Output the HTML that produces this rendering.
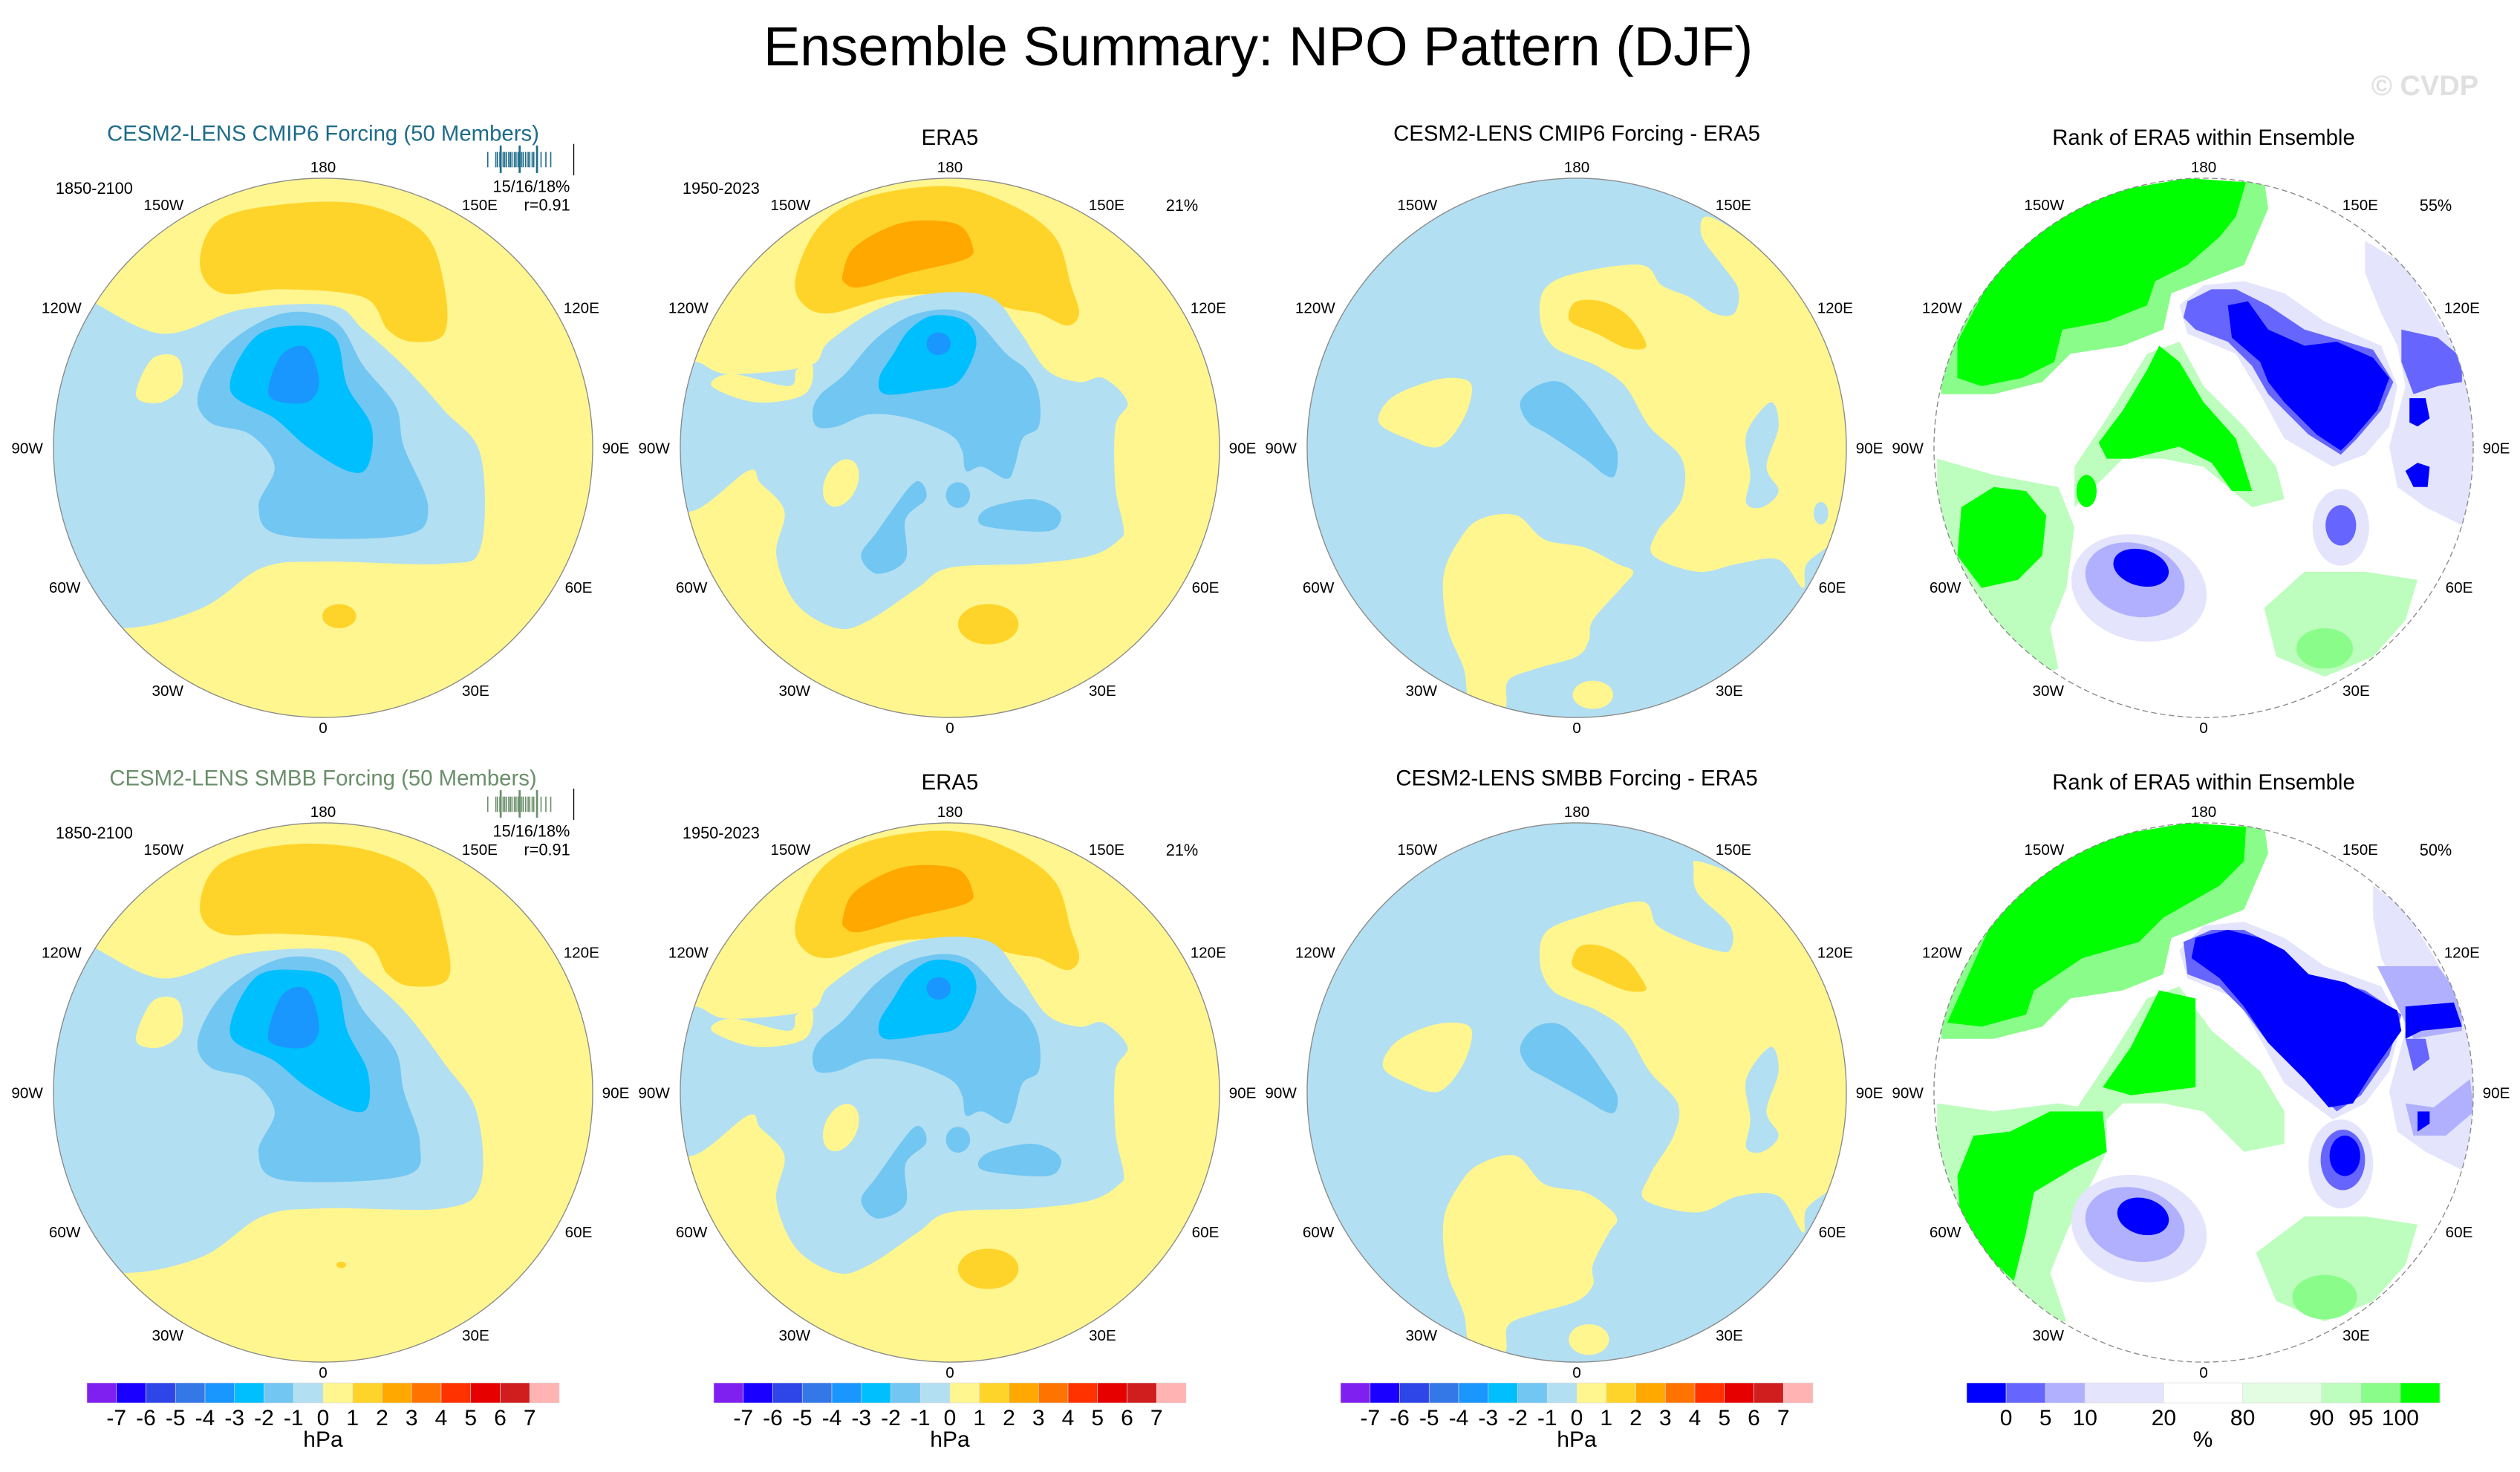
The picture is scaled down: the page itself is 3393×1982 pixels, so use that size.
<!DOCTYPE html>
<html>
<head>
<meta charset="utf-8">
<style>
html,body{margin:0;padding:0;background:#fff;}
svg{display:block;font-family:"Liberation Sans",Arial,sans-serif;}
</style>
</head>
<body>
<svg id="fig" width="3393" height="1982" viewBox="0 0 3393 1982" xmlns="http://www.w3.org/2000/svg">
<defs id="defs"></defs>
<rect x="0" y="0" width="3393" height="1982" fill="#fff"/>
<text x="1694" y="88" font-size="74" text-anchor="middle" fill="#000">Ensemble Summary: NPO Pattern (DJF)</text>
<text x="3265" y="128" font-size="38" font-weight="bold" text-anchor="middle" fill="#e0e0e0">© CVDP</text>
</svg>
<script>
const NS='http://www.w3.org/2000/svg';
const svg=document.getElementById('fig');
const defs=document.getElementById('defs');

// ---- colour bar data ----
const hpaColors=['#8020f0','#1a00ff','#2e45e8','#3478e8','#1a96ff','#00bfff','#72c6f2','#b3dff2','#fff68f','#ffd42a','#ffa800','#ff7400','#ff3200','#e60000','#d01d1d','#ffb3b3'];
const hpaLabels=['-7','-6','-5','-4','-3','-2','-1','0','1','2','3','4','5','6','7'];
const rankColors=['#0000ff','#6666ff','#b0b0ff','#e4e4fc','#ffffff','#e2fde2','#bdfdbd','#8afc8a','#00ff00'];
const rankWidths=[1,1,1,2,2,2,1,1,1];
const rankLabels=['0','5','10','20','80','90','95','100'];
const lonLabels=['180','150W','150E','120W','120E','90W','90E','60W','60E','30W','30E','0'];
const lonLabelPos=[[800,170],[405,264],[1188,264],[152,519],[1440,519],[67,867],[1525,867],[160,1212],[1433,1212],[415,1468],[1178,1468],[800,1560]];

// ---- map fields (level index, outline in map units; e = ellipse cx,cy,rx,ry,rot) ----
const fieldModelCMIP6=[
 {c:7,p:[[200,480],[400,570],[600,510],[820,500],[900,560],[1000,650],[1100,760],[1190,870],[1190,1100],[1100,1140],[800,1135],[650,1150],[500,1250],[300,1300],[100,1250],[60,800],[120,500]]},
 {c:8,p:[[340,700],[380,630],[440,630],[450,700],[400,740],[345,735]]},
 {c:6,p:[[490,720],[560,600],[700,520],[830,540],[900,650],[980,750],[1000,850],[1060,1000],[1000,1070],[700,1070],[640,1000],[680,900],[620,820],[520,790]]},
 {c:5,p:[[570,710],[630,580],[740,550],[830,580],[860,700],[920,800],[910,900],[860,910],[760,850],[680,780]]},
 {c:4,p:[[665,700],[700,620],[760,605],[790,690],[760,740],[680,735]]},
 {c:9,p:[[495,400],[540,290],[700,250],[900,250],[1050,320],[1100,450],[1100,570],[1020,590],[960,560],[900,480],[700,460],[550,470]]},
 {c:9,e:[840,1270,42,30,0]}
];
const fieldModelSMBB=[
 {c:7,p:[[200,480],[400,570],[600,510],[820,500],[900,560],[1000,650],[1100,780],[1180,900],[1190,1080],[1100,1140],[800,1140],[650,1160],[500,1260],[300,1300],[100,1250],[60,800],[120,500]]},
 {c:8,p:[[340,700],[380,625],[440,625],[450,700],[400,740],[345,735]]},
 {c:6,p:[[490,720],[560,600],[700,520],[830,540],[900,650],[980,750],[1000,850],[1040,980],[1000,1060],[700,1070],[640,1000],[680,900],[620,820],[520,790]]},
 {c:5,p:[[570,710],[630,570],[740,550],[830,580],[860,700],[910,800],[910,890],[860,895],[760,840],[680,775]]},
 {c:4,p:[[665,700],[700,610],[760,598],[790,690],[760,740],[680,735]]},
 {c:9,p:[[495,400],[540,290],[700,240],[900,250],[1050,320],[1100,450],[1110,570],[1020,590],[960,560],[900,480],[700,460],[550,460]]},
 {c:9,e:[845,1280,12,8,0]}
];
const fieldERA5=[
 {c:9,p:[[420,420],[480,300],[600,230],[800,205],[950,250],[1060,330],[1100,450],[1120,520],[1090,550],[1020,520],[960,510],[800,475],[650,480],[500,520],[430,490]]},
 {c:10,p:[[535,420],[560,360],[640,310],[720,290],[820,300],[855,350],[840,385],[700,420],[580,455],[540,445]]},
 {c:7,p:[[160,640],[250,670],[450,650],[500,590],[620,510],[760,470],[900,480],[970,560],[1040,660],[1120,690],[1180,680],[1240,740],[1210,800],[1210,950],[1230,1050],[1220,1080],[1150,1120],[1000,1140],[800,1150],[720,1200],[600,1280],[520,1300],[420,1240],[370,1120],[390,1010],[330,940],[300,910],[160,1010],[60,950],[60,700]]},
 {c:8,p:[[210,700],[260,670],[400,700],[420,660],[460,650],[440,720],[320,740]]},
 {c:8,e:[530,940,40,62,25]},
 {c:6,p:[[460,760],[480,720],[540,670],[620,580],[720,520],[840,520],[940,620],[990,660],[1020,720],[1020,800],[980,830],[960,900],[940,930],[880,900],[840,910],[830,860],[800,820],[700,780],[600,770],[520,800],[470,800]]},
 {c:6,p:[[580,1120],[620,1060],[700,950],[730,940],[740,980],[690,1030],[690,1130],[620,1165]]},
 {c:6,e:[820,970,30,32,0]},
 {c:6,p:[[870,1030],[900,1000],[1000,980],[1060,1000],[1075,1030],[1040,1060],[900,1050]]},
 {c:5,p:[[625,680],[660,620],[700,560],[760,525],[840,540],[865,600],[820,690],[740,710],[640,720]]},
 {c:4,e:[772,595,30,28,0]},
 {c:9,e:[895,1290,75,50,0]}
];
const fieldDiffCMIP6=[
 {c:8,p:[[1120,280],[1200,320],[1330,420],[1420,560],[1470,700],[1470,1000],[1440,1080],[1370,1140],[1360,1200],[1300,1130],[1200,1140],[1100,1160],[990,1120],[1000,1060],[1060,980],[1060,880],[980,800],[920,700],[850,650],[800,630],[740,600],[710,540],[720,460],[800,420],[960,400],[1010,450],[1080,480],[1140,520],[1190,520],[1200,460],[1160,400],[1110,330]]},
 {c:7,p:[[1220,820],[1280,740],[1300,800],[1270,900],[1300,960],[1260,1000],[1220,990],[1230,920]]},
 {c:7,e:[1405,1015,18,28,0]},
 {c:8,p:[[310,790],[340,730],[430,690],[500,680],[540,700],[520,780],[460,850],[380,830]]},
 {c:8,p:[[470,1170],[510,1080],[560,1030],[650,1020],[720,1080],[820,1100],[900,1140],[940,1160],[910,1200],[840,1280],[830,1330],[800,1370],[700,1400],[630,1430],[620,1500],[540,1500],[520,1400],[480,1300]]},
 {c:8,e:[840,1465,50,35,0]},
 {c:9,p:[[780,520],[800,490],[860,490],[920,520],[960,570],[970,605],[920,605],[850,570],[790,545]]},
 {c:6,p:[[660,740],[700,700],[760,690],[820,740],[870,810],[900,860],[895,920],[870,920],[820,880],[730,820],[680,790]]}
];
const fieldDiffSMBB=[
 {c:8,p:[[1100,280],[1200,320],[1330,420],[1420,560],[1470,700],[1470,1000],[1440,1080],[1370,1140],[1360,1200],[1300,1110],[1200,1110],[1100,1150],[970,1120],[980,1060],[1040,960],[1050,880],[980,800],[920,700],[850,650],[800,630],[740,600],[710,540],[720,460],[800,420],[960,380],[1000,440],[1080,480],[1140,500],[1180,500],[1180,440],[1100,360],[1090,300]]},
 {c:7,p:[[1220,820],[1280,740],[1300,800],[1270,900],[1300,960],[1260,1000],[1220,990],[1230,920]]},
 {c:8,p:[[320,790],[350,730],[430,690],[500,680],[540,700],[520,780],[460,850],[380,830]]},
 {c:8,p:[[470,1170],[510,1080],[560,1030],[650,1010],[720,1080],[820,1100],[880,1140],[900,1170],[880,1200],[840,1280],[840,1330],[800,1370],[700,1400],[630,1430],[620,1500],[540,1500],[520,1400],[480,1300]]},
 {c:8,e:[830,1465,50,38,0]},
 {c:9,p:[[790,520],[810,490],[860,490],[920,520],[960,570],[970,600],[920,600],[850,570],[795,545]]},
 {c:6,p:[[660,740],[700,690],[760,685],[820,740],[870,810],[900,860],[895,900],[870,900],[820,870],[730,820],[680,790]]}
];
const fieldRankCMIP6=[
 {c:7,p:[[150,620],[250,400],[560,210],[950,190],[960,260],[900,400],[720,470],[700,560],[600,600],[470,620],[400,690],[280,720],[150,720]]},
 {c:8,p:[[190,590],[280,420],[400,300],[560,220],[760,185],[905,195],[880,280],[840,330],[760,400],[680,440],[660,500],[560,540],[450,560],[430,640],[350,680],[250,700],[190,680]]},
 {c:6,p:[[140,880],[280,920],[440,950],[480,1050],[460,1200],[420,1300],[440,1400],[380,1420],[240,1300],[170,1150],[140,1000]]},
 {c:6,p:[[480,900],[560,780],[660,620],[740,590],[800,700],[900,800],[980,900],[1000,980],[920,1000],[800,900],[700,880],[600,880],[520,960],[480,1000]]},
 {c:8,p:[[540,840],[600,760],[660,660],[690,600],[740,640],[800,740],[880,830],[920,960],[870,960],[820,890],[740,850],[620,880],[560,880]]},
 {c:8,p:[[200,1000],[280,950],[360,960],[410,1020],[400,1120],[340,1180],[250,1200],[190,1120]]},
 {c:8,e:[510,960,25,40,0]},
 {c:3,p:[[740,500],[800,450],[900,440],[1000,470],[1100,540],[1240,600],[1280,700],[1260,800],[1200,870],[1120,900],[1000,830],[940,720],[880,620],[760,570]]},
 {c:3,p:[[1200,340],[1300,400],[1420,600],[1470,700],[1470,950],[1450,1050],[1350,1000],[1280,950],[1260,850],[1300,700],[1280,600],[1240,520],[1200,420]]},
 {c:1,p:[[760,490],[820,460],[880,460],[960,500],[1050,560],[1220,610],[1270,690],[1240,760],[1180,830],[1140,870],[1060,820],[960,720],[920,650],[860,590],[780,560],[750,530]]},
 {c:0,p:[[860,500],[910,490],[960,560],[1050,600],[1130,590],[1220,630],[1260,680],[1230,760],[1170,830],[1140,860],[1080,820],[1000,740],[960,690],[940,640],[870,580]]},
 {c:1,p:[[1290,560],[1380,580],[1440,630],[1440,690],[1380,700],[1320,720],[1290,640]]},
 {c:0,p:[[1310,730],[1350,730],[1360,780],[1330,800],[1310,790]]},
 {c:0,p:[[1300,910],[1330,890],[1360,900],[1355,950],[1320,950]]},
 {c:3,e:[640,1200,170,130,15]},
 {c:2,e:[630,1180,125,90,15]},
 {c:0,e:[645,1150,70,45,15]},
 {c:3,e:[1140,1050,70,95,0]},
 {c:1,e:[1140,1045,38,50,0]},
 {c:6,p:[[950,1250],[1050,1160],[1200,1160],[1330,1180],[1300,1280],[1220,1370],[1100,1420],[980,1370]]},
 {c:7,e:[1100,1350,70,50,0]}
];
const fieldRankSMBB=[
 {c:7,p:[[150,620],[250,400],[560,210],[950,190],[960,260],[900,400],[720,470],[700,560],[600,600],[470,620],[400,690],[280,720],[150,720]]},
 {c:8,p:[[165,680],[280,420],[400,300],[560,220],[760,185],[905,195],[900,280],[840,340],[700,420],[640,480],[500,520],[380,600],[360,660],[250,690]]},
 {c:6,p:[[140,880],[280,900],[440,880],[560,900],[560,1000],[460,1200],[420,1300],[460,1420],[380,1420],[240,1300],[170,1150],[140,1000]]},
 {c:6,p:[[480,900],[560,780],[660,620],[740,590],[820,700],[940,800],[1000,900],[1000,980],[900,1000],[800,900],[700,880],[600,880],[520,960],[480,1000]]},
 {c:8,p:[[550,840],[620,740],[670,640],[690,600],[780,620],[780,840],[700,850],[620,860]]},
 {c:8,p:[[230,960],[320,950],[420,900],[550,900],[560,1000],[480,1040],[380,1100],[360,1200],[330,1320],[200,1200],[190,1060]]},
 {c:3,p:[[740,500],[800,440],[900,430],[1000,470],[1100,540],[1240,590],[1290,680],[1260,800],[1200,880],[1120,920],[1000,830],[940,720],[880,620],[760,570]]},
 {c:3,p:[[1220,340],[1300,400],[1420,600],[1470,700],[1470,950],[1450,1050],[1350,1000],[1280,950],[1260,850],[1300,700],[1280,600],[1240,520],[1220,420]]},
 {c:1,p:[[750,480],[820,450],[900,450],[980,490],[1060,560],[1200,600],[1290,660],[1260,760],[1190,860],[1130,900],[1060,830],[960,730],[900,650],[840,590],[760,560]]},
 {c:0,p:[[780,470],[860,450],[940,470],[1000,500],[1060,560],[1150,580],[1280,650],[1290,700],[1220,800],[1170,880],[1110,890],[1050,820],[960,730],[900,640],[840,570],[770,520]]},
 {c:2,p:[[1230,540],[1380,540],[1440,620],[1440,700],[1320,720],[1280,640]]},
 {c:0,p:[[1300,640],[1420,630],[1440,690],[1340,700],[1300,720]]},
 {c:1,p:[[1300,720],[1350,720],[1360,770],[1320,800]]},
 {c:2,p:[[1300,880],[1370,890],[1460,820],[1470,900],[1400,960],[1320,960]]},
 {c:0,p:[[1330,900],[1360,900],[1360,930],[1330,950]]},
 {c:3,e:[640,1190,170,130,15]},
 {c:2,e:[630,1180,125,90,15]},
 {c:0,e:[650,1160,65,45,15]},
 {c:3,e:[1140,1030,80,110,0]},
 {c:1,e:[1145,1020,55,75,0]},
 {c:0,e:[1150,1010,38,50,0]},
 {c:6,p:[[930,1250],[1050,1160],[1200,1160],[1330,1180],[1300,1280],[1220,1370],[1100,1420],[980,1370]]},
 {c:7,e:[1100,1360,80,55,0]}
];

const S=1/1.84;
const panels=[
 {col:0,row:0,kind:'hpa',base:8,field:fieldModelCMIP6,title:'CESM2-LENS CMIP6 Forcing (50 Members)',tcolor:'#1d6b8a',left:'1850-2100',r1:'15/16/18%',r2:'r=0.91',strip:true,ty:92},
 {col:1,row:0,kind:'hpa',base:8,field:fieldERA5,title:'ERA5',tcolor:'#000',left:'1950-2023',pct:'21%',ty:102},
 {col:2,row:0,kind:'hpa',base:7,field:fieldDiffCMIP6,title:'CESM2-LENS CMIP6 Forcing - ERA5',tcolor:'#000',ty:92},
 {col:3,row:0,kind:'rank',base:4,field:fieldRankCMIP6,title:'Rank of ERA5 within Ensemble',tcolor:'#000',pct:'55%',ty:102},
 {col:0,row:1,kind:'hpa',base:8,field:fieldModelSMBB,title:'CESM2-LENS SMBB Forcing (50 Members)',tcolor:'#6a8f6a',left:'1850-2100',r1:'15/16/18%',r2:'r=0.91',strip:true,ty:92},
 {col:1,row:1,kind:'hpa',base:8,field:fieldERA5,title:'ERA5',tcolor:'#000',left:'1950-2023',pct:'21%',ty:102},
 {col:2,row:1,kind:'hpa',base:7,field:fieldDiffSMBB,title:'CESM2-LENS SMBB Forcing - ERA5',tcolor:'#000',ty:92},
 {col:3,row:1,kind:'rank',base:4,field:fieldRankSMBB,title:'Rank of ERA5 within Ensemble',tcolor:'#000',pct:'50%',ty:102}
];

function el(tag,attrs,parent){const e=document.createElementNS(NS,tag);for(const k in attrs)e.setAttribute(k,attrs[k]);parent.appendChild(e);return e;}
function smooth(pts){
 const n=pts.length;let d='M'+pts[0][0]+','+pts[0][1];
 for(let i=0;i<n;i++){
  const p0=pts[(i-1+n)%n],p1=pts[i],p2=pts[(i+1)%n],p3=pts[(i+2)%n];
  const c1=[p1[0]+(p2[0]-p0[0])/6,p1[1]+(p2[1]-p0[1])/6];
  const c2=[p2[0]-(p3[0]-p1[0])/6,p2[1]-(p3[1]-p1[1])/6];
  d+=' C'+c1[0].toFixed(1)+','+c1[1].toFixed(1)+' '+c2[0].toFixed(1)+','+c2[1].toFixed(1)+' '+p2[0]+','+p2[1];
 }
 return d+'Z';
}
function poly(pts){return 'M'+pts.map(p=>p[0]+','+p[1]).join(' L')+'Z';}

const stripTicks=[1208,1228,1232,1238,1246,1250,1254,1260,1264,1268,1274,1278,1283,1292,1296,1302,1308,1312,1318,1322,1340,1352,1364];
const stripMajor=[1240,1287,1330];

panels.forEach((P,i)=>{
 const cx=435+844*P.col, cy=603+868*P.row;
 const colors=P.kind==='hpa'?hpaColors:rankColors;
 const cp=el('clipPath',{id:'clip'+i},defs);
 el('circle',{cx:800,cy:853,r:668},cp);
 const g=el('g',{transform:`translate(${cx},${cy}) scale(${S}) translate(-800,-853)`},svg);
 
 
 const fg=el('g',{'clip-path':`url(#clip${i})`},g);
 const base=el('circle',{cx:800,cy:853,r:668,fill:colors[P.base]},fg);
 
 
 P.field.forEach((s,j)=>{
  let shape;
  if(s.e){
   shape=el('ellipse',{cx:s.e[0],cy:s.e[1],rx:s.e[2],ry:s.e[3],transform:`rotate(${s.e[4]} ${s.e[0]} ${s.e[1]})`,fill:colors[s.c]},fg);
  }else{
   shape=el('path',{d:P.kind==='rank'?poly(s.p):smooth(s.p),fill:colors[s.c]},fg);
  }
  
  
 });
 const outline=el('circle',{cx:800,cy:853,r:668,fill:'none',stroke:'#8a8a8a','stroke-width':2.5,'stroke-dasharray':P.kind==='rank'?'14 8':'none'},g);
 
 
 lonLabels.forEach((t,k)=>{
  const tx=el('text',{x:lonLabelPos[k][0],y:lonLabelPos[k][1],'font-size':38,'text-anchor':'middle',fill:'#000'},g);
  tx.textContent=t;
  
  
 });
 const tt=el('text',{x:800,y:P.ty,'font-size':54,'text-anchor':'middle',fill:P.tcolor},g);
 tt.textContent=P.title;
 
 
 if(P.left){
  const lt=el('text',{x:233,y:224,'font-size':40,'text-anchor':'middle',fill:'#000'},g);
  lt.textContent=P.left;
  
  
 }
 if(P.pct){
  const pt=el('text',{x:1375,y:266,'font-size':40,'text-anchor':'middle',fill:'#000'},g);
  pt.textContent=P.pct;
  
  
 }
 if(P.r1){
  const a=el('text',{x:1316,y:219,'font-size':40,'text-anchor':'middle',fill:'#000'},g);
  a.textContent=P.r1;
  
  
  const b=el('text',{x:1355,y:265,'font-size':40,'text-anchor':'middle',fill:'#000'},g);
  b.textContent=P.r2;
  
  
 }
 if(P.strip){
  const sg=el('g',{stroke:P.tcolor},g);
  
  
  stripTicks.forEach(x=>el('line',{x1:x,y1:120,x2:x,y2:158,'stroke-width':3},sg));
  stripMajor.forEach(x=>el('line',{x1:x,y1:104,x2:x,y2:172,'stroke-width':5},sg));
  el('line',{x1:1421,y1:100,x2:1421,y2:178,stroke:'#000','stroke-width':2.5},g);
 }
 if(P.row===1){
  const cb=el('g',{},svg);
  
  
  if(P.kind==='hpa'){
   const x0=117+844*P.col, w=636/hpaColors.length;
   hpaColors.forEach((c,k)=>{
    const r=el('rect',{x:x0+k*w,y:1862,width:w,height:27,fill:c,stroke:'#ddd','stroke-width':0.6},cb);
    
    
   });
   hpaLabels.forEach((t,k)=>{
    const tx=el('text',{x:x0+(k+1)*w,y:1919,'font-size':30,'text-anchor':'middle',fill:'#000'},cb);
    tx.textContent=t;
    
    
   });
   const u=el('text',{x:x0+318,y:1948,'font-size':30,'text-anchor':'middle',fill:'#000'},cb);
   u.textContent='hPa';
   
   
  }else{
   const x0=2648, unit=637/rankWidths.reduce((a,b)=>a+b,0);
   let x=x0;const bounds=[];
   rankColors.forEach((c,k)=>{
    const w=rankWidths[k]*unit;
    const r=el('rect',{x:x,y:1862,width:w,height:27,fill:c,stroke:'#ddd','stroke-width':0.6},cb);
    
    
    x+=w;bounds.push(x);
   });
   rankLabels.forEach((t,k)=>{
    const tx=el('text',{x:bounds[k],y:1919,'font-size':30,'text-anchor':'middle',fill:'#000'},cb);
    tx.textContent=t;
    
    
   });
   const u=el('text',{x:x0+318,y:1948,'font-size':30,'text-anchor':'middle',fill:'#000'},cb);
   u.textContent='%';
   
   
  }
 }
});
</script>
</body>
</html>
